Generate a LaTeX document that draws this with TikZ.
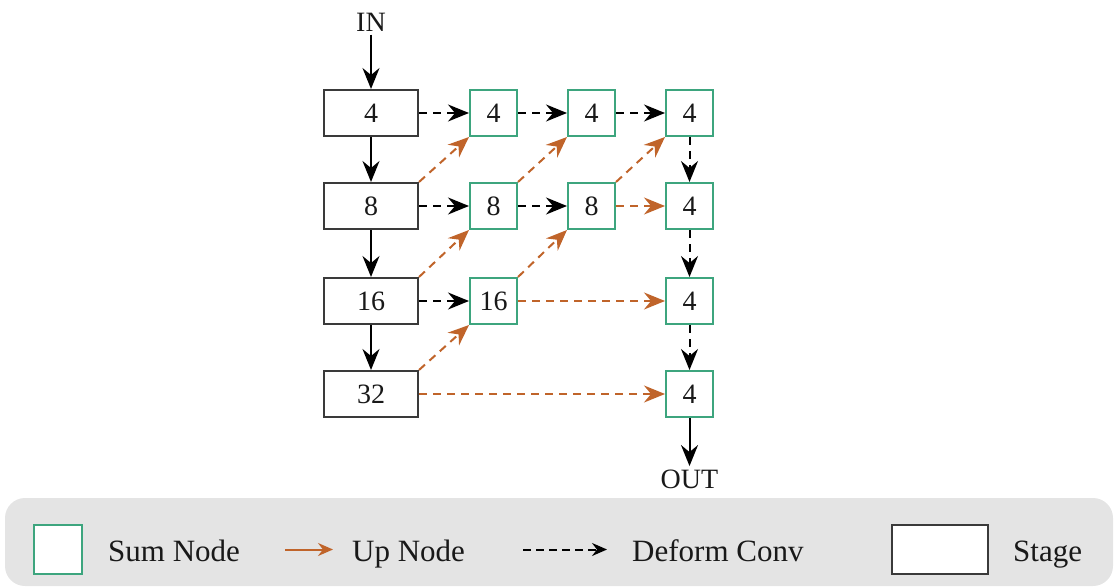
\documentclass[tikz,border=0pt]{standalone}
\usepackage{fontspec}
\setmainfont{Liberation Serif}
\usetikzlibrary{arrows.meta}
\definecolor{sumgreen}{HTML}{3DA57E}
\definecolor{uporange}{HTML}{C0642A}
\definecolor{stagegray}{HTML}{3A3A3A}
\definecolor{leggray}{HTML}{E4E4E4}
\begin{document}
\begin{tikzpicture}[x=1pt,y=-1pt,
  every node/.style={font=\fontsize{28}{32}\selectfont, text=black!90},
  stagebox/.style={draw=stagegray, line width=2pt, minimum width=94pt, minimum height=46pt, inner sep=0pt, fill=white},
  sumbox/.style={draw=sumgreen, line width=2pt, minimum width=47pt, minimum height=46pt, inner sep=0pt, fill=white},
  tip/.style={-{Stealth[length=21pt,width=17pt,inset=7pt]}},
  flow/.style={tip, line width=2pt, draw=black},
  conv/.style={tip, line width=2pt, draw=black, dash pattern=on 8pt off 6pt},
  up/.style={tip, line width=2pt, draw=uporange, dash pattern=on 8pt off 6pt},
  legtext/.style={font=\fontsize{31}{34}\selectfont, anchor=base west, inner sep=0pt}
]
\useasboundingbox (0,0) rectangle (1118,588);

% legend background
\fill[leggray, rounded corners=20pt] (5,498) rectangle (1113,586);

% stages
\node[stagebox] (s4)  at (371,113) {4};
\node[stagebox] (s8)  at (371,206) {8};
\node[stagebox] (s16) at (371,301) {16};
\node[stagebox] (s32) at (371,394) {32};

% sum nodes
\node[sumbox] (a1) at (493.5,113) {4};
\node[sumbox] (a2) at (591.5,113) {4};
\node[sumbox] (a3) at (689.5,113) {4};
\node[sumbox] (b1) at (493.5,206) {8};
\node[sumbox] (b2) at (591.5,206) {8};
\node[sumbox] (b3) at (689.5,206) {4};
\node[sumbox] (c1) at (493.5,301) {16};
\node[sumbox] (c3) at (689.5,301) {4};
\node[sumbox] (d3) at (689.5,394) {4};

\node (in)  at (371,22) {IN};
\node (out) at (689.5,479) {OUT};

% main flow
\draw[flow] (in) -- (s4);
\draw[flow] (s4) -- (s8);
\draw[flow] (s8) -- (s16);
\draw[flow] (s16) -- (s32);
\draw[flow] (d3) -- (out);

% deform conv
\draw[conv] (s4) -- (a1);
\draw[conv] (a1) -- (a2);
\draw[conv] (a2) -- (a3);
\draw[conv] (s8) -- (b1);
\draw[conv] (b1) -- (b2);
\draw[conv] (s16) -- (c1);
\draw[conv] (a3) -- (b3);
\draw[conv] (b3) -- (c3);
\draw[conv] (c3) -- (d3);

% up nodes
\draw[up] (b2) -- (b3);
\draw[up] (c1) -- (c3);
\draw[up] (s32) -- (d3);
\draw[up] (s8.north east) -- (a1.south west);
\draw[up] (b1.north east) -- (a2.south west);
\draw[up] (b2.north east) -- (a3.south west);
\draw[up] (s16.north east) -- (b1.south west);
\draw[up] (c1.north east) -- (b2.south west);
\draw[up] (s32.north east) -- (c1.south west);

% legend
\node[draw=sumgreen, line width=2pt, fill=white, minimum width=48pt, minimum height=49pt, inner sep=0pt] (lsum) at (57.5,549.5) {};
\node[legtext] (lsumt) at (108,561) {Sum Node};
\coordinate (lupa) at (285,549.5);
\coordinate (lupb) at (333,549.5);
\draw[uporange, line width=2pt, -{Stealth[length=15pt,width=13pt,inset=5pt]}] (lupa) -- (lupb);
\node[legtext] (lupt) at (352,561) {Up Node};
\coordinate (lcva) at (523,549.5);
\coordinate (lcvb) at (607,549.5);
\draw[black, line width=2pt, dash pattern=on 8pt off 5pt, -{Stealth[length=15pt,width=13pt,inset=5pt]}] (lcva) -- (lcvb);
\node[legtext] (lcvt) at (632,561) {Deform Conv};
\node[draw=stagegray, line width=2pt, fill=white, minimum width=96pt, minimum height=49pt, inner sep=0pt] (lst) at (940,549.5) {};
\node[legtext] (lstt) at (1013,561) {Stage};
\end{tikzpicture}
\end{document}
